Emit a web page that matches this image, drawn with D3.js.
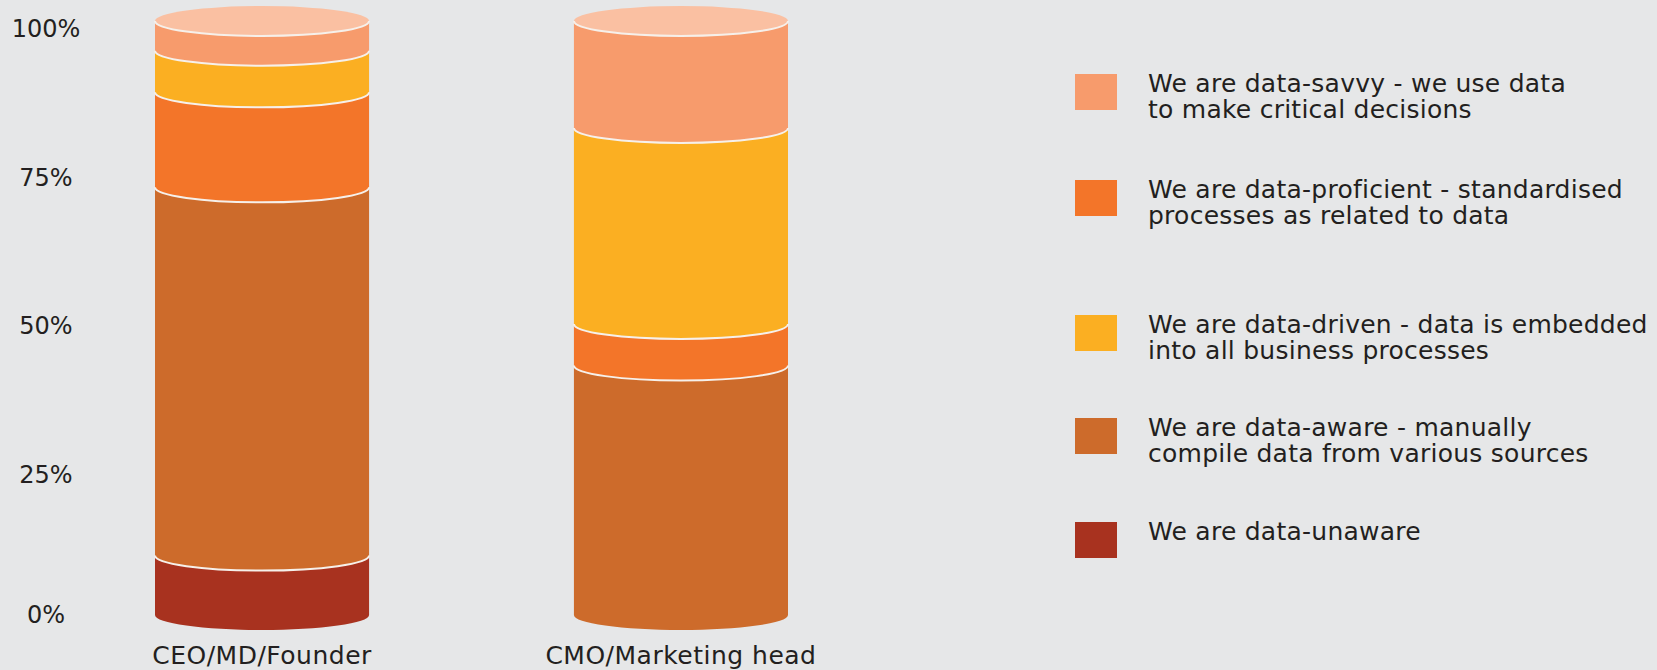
<!DOCTYPE html>
<html>
<head>
<meta charset="utf-8">
<script src="https://cdn.jsdelivr.net/npm/d3@7"></script>
<style>
  html, body { margin: 0; padding: 0; background: #e6e7e8; }
  svg { display: block; }
  text { font-family: "DejaVu Sans", sans-serif; fill: #231f20; }
</style>
</head>
<body>
<div id="chart"></div>
<script>
// categories and series (stack order: bottom -> top), values in %
const categories = ['CEO/MD/Founder', 'CMO/Marketing head'];
const seriesKeys = ['unaware', 'aware', 'proficient', 'driven', 'savvy'];
const unaware    = [10, 0];
const aware      = [62, 42];
const proficient = [16, 7];
const driven     = [7, 33];
const savvy      = [5, 18];
const tickValues = [0, 25, 50, 75, 100];

// legend, listed top -> bottom
const legendKeys = ['savvy', 'proficient', 'driven', 'aware', 'unaware'];
const legendLabels = [
    ['We are data-savvy - we use data', 'to make critical decisions'],
    ['We are data-proficient - standardised', 'processes as related to data'],
    ['We are data-driven - data is embedded', 'into all business processes'],
    ['We are data-aware - manually', 'compile data from various sources'],
    ['We are data-unaware']
];

const colors = {
    unaware: '#a8321f',
    aware: '#cd6b2b',
    proficient: '#f37529',
    driven: '#fbaf22',
    savvy: '#f79b6c'
};
const topColor = '#fac0a2';
const rimColor = '#f6f0ea';

const width = 1657, height = 670;
const legendTops = [74, 180, 315, 418, 522];

var table = categories.map((c, i) => ({
    category: c,
    unaware: unaware[i],
    aware: aware[i],
    proficient: proficient[i],
    driven: driven[i],
    savvy: savvy[i]
}));

var stacked = d3.stack().keys(seriesKeys)(table);

var svg = d3.select('#chart')
    .append('svg')
    .attr('width', width)
    .attr('height', height);

var x = d3.scaleBand()
    .domain(categories)
    .range([155, 788])
    .paddingInner(0.489)
    .paddingOuter(0);

var y = d3.scaleLinear()
    .domain([0, 100])
    .range([615, 21]);

var rx = x.bandwidth() / 2;
var ry = 15;

// y labels
svg.append('g')
    .selectAll('text')
    .data(tickValues)
    .enter()
    .append('text')
    .attr('x', 46)
    .attr('y', d => y(d) + (d === 0 ? 0 : 8))
    .attr('text-anchor', 'middle')
    .attr('dominant-baseline', 'central')
    .style('font-size', '24px')
    .text(d => d + '%');

var cyl = svg.append('g');

// segments drawn bottom -> top so each bottom arc sits over the one below
stacked.forEach(layer => {
    layer.forEach((seg, i) => {
        if (seg[1] - seg[0] <= 0) return;
        var x0 = x(categories[i]);
        var x1 = x0 + x.bandwidth();
        var yb = y(seg[0]);
        var yt = y(seg[1]);

        cyl.append('path')
            .attr('d', `M${x0},${yt} L${x0},${yb} A${rx},${ry} 0 0 0 ${x1},${yb} L${x1},${yt} Z`)
            .attr('fill', colors[layer.key]);

        if (seg[0] > 0) {
            cyl.append('path')
                .attr('d', `M${x0},${yb} A${rx},${ry} 0 0 0 ${x1},${yb}`)
                .attr('fill', 'none')
                .attr('stroke', rimColor)
                .attr('stroke-width', 2);
        }
    });
});

// top caps
var last = stacked[stacked.length - 1];
last.forEach((seg, i) => {
    var x0 = x(categories[i]);
    var x1 = x0 + x.bandwidth();
    var yt = y(seg[1]);
    cyl.append('ellipse')
        .attr('cx', x0 + rx)
        .attr('cy', yt)
        .attr('rx', rx)
        .attr('ry', ry)
        .attr('fill', topColor);
    cyl.append('path')
        .attr('d', `M${x0},${yt} A${rx},${ry} 0 0 0 ${x1},${yt}`)
        .attr('fill', 'none')
        .attr('stroke', rimColor)
        .attr('stroke-width', 2);
});

// category labels
svg.append('g')
    .selectAll('text')
    .data(categories)
    .enter()
    .append('text')
    .attr('x', d => x(d) + x.bandwidth() / 2)
    .attr('y', 664)
    .attr('text-anchor', 'middle')
    .style('font-size', '25px')
    .style('letter-spacing', '0.5px')
    .text(d => d);

// legend
var legend = svg.append('g')
    .selectAll('g')
    .data(legendKeys)
    .enter()
    .append('g')
    .attr('transform', (d, i) => `translate(1075, ${legendTops[i]})`);

legend.append('rect')
    .attr('width', 42)
    .attr('height', 36)
    .attr('fill', d => colors[d]);

legend.each(function (d, i) {
    var g = d3.select(this);
    legendLabels[i].forEach((line, j) => {
        g.append('text')
            .attr('x', 73)
            .attr('y', 18 + j * 26)
            .style('font-size', '25px')
            .style('letter-spacing', '0.25px')
            .text(line);
    });
});
</script>
</body>
</html>
